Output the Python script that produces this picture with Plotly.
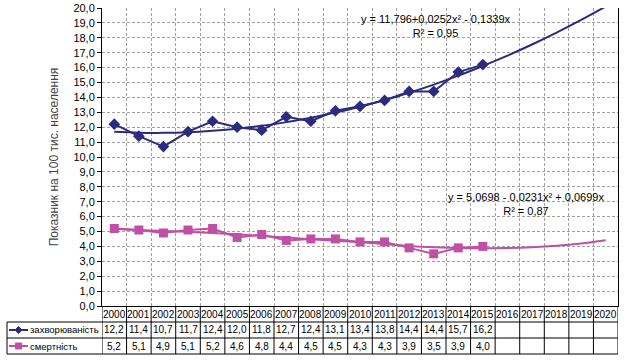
import plotly.graph_objects as go

years = [str(y) for y in range(2000, 2021)]
morbidity = [12.2, 11.4, 10.7, 11.7, 12.4, 12.0, 11.8, 12.7, 12.4, 13.1, 13.4, 13.8, 14.4, 14.4, 15.7, 16.2]
mortality = [5.2, 5.1, 4.9, 5.1, 5.2, 4.6, 4.8, 4.4, 4.5, 4.5, 4.3, 4.3, 3.9, 3.5, 3.9, 4.0]
# trendlines as drawn in the picture (2000..2020)
morbidity_trend = [11.69, 11.63, 11.62, 11.66, 11.76, 11.90, 12.09, 12.34, 12.63, 12.98, 13.37,
                   13.82, 14.31, 14.86, 15.46, 16.11, 16.80, 17.55, 18.35, 19.20, 20.10]
mortality_trend = [5.16, 5.10, 5.04, 4.98, 4.90, 4.81, 4.70, 4.59, 4.48, 4.38, 4.28,
                   4.15, 4.03, 3.95, 3.90, 3.88, 3.89, 3.94, 4.04, 4.20, 4.42]
series_names = ["захворюваність", "смертність"]
eq1 = ["y = 11,796+0,0252x² - 0,1339x", "R² = 0,95"]
eq2 = ["y = 5,0698 - 0,0231x² + 0,0699x", "R² = 0,87"]

BLUE = "#2B2B80"
PINK = "#C050A4"

n = len(years)
xi = list(range(n))

fig = go.Figure()
fig.add_trace(go.Scatter(x=xi, y=morbidity_trend, mode="lines", line=dict(color=BLUE, width=2, shape="spline"),
                         showlegend=False, hoverinfo="skip"))
fig.add_trace(go.Scatter(x=xi, y=mortality_trend, mode="lines", line=dict(color=PINK, width=2, shape="spline"),
                         showlegend=False, hoverinfo="skip"))
fig.add_trace(go.Scatter(x=xi[:len(morbidity)], y=morbidity, mode="lines+markers", name=series_names[0],
                         line=dict(color=BLUE, width=2), marker=dict(symbol="diamond", size=9, color=BLUE),
                         showlegend=False))
fig.add_trace(go.Scatter(x=xi[:len(mortality)], y=mortality, mode="lines+markers", name=series_names[1],
                         line=dict(color=PINK, width=2), marker=dict(symbol="square", size=9, color=PINK),
                         showlegend=False))

L, R, T, B = 102, 618, 8, 306
W, H = 634, 364
pw, ph = R - L, B - T

def py(p):
    return (B - p) / ph

def px(p):
    return (p - L) / pw

TFONT = dict(family="Liberation Sans, Arial", size=10, color="#000")
LFONT = dict(family="Liberation Sans, Arial", size=9.5, color="#000")
ann = []
shapes = []
row_y = [314, 330, 346]
for i, yr in enumerate(years):
    ann.append(dict(x=i, y=py(row_y[0]), xref="x", yref="paper", text=yr, showarrow=False, font=TFONT,
                    xanchor="center", yanchor="middle"))
for i, v in enumerate(morbidity):
    ann.append(dict(x=i, y=py(row_y[1]), xref="x", yref="paper", text=f"{v:.1f}".replace(".", ","),
                    showarrow=False, font=TFONT, xanchor="center", yanchor="middle"))
for i, v in enumerate(mortality):
    ann.append(dict(x=i, y=py(row_y[2]), xref="x", yref="paper", text=f"{v:.1f}".replace(".", ","),
                    showarrow=False, font=TFONT, xanchor="center", yanchor="middle"))
for k, name in enumerate(series_names):
    ann.append(dict(x=px(29), y=py(row_y[k + 1]), xref="paper", yref="paper", text=name, showarrow=False,
                    xanchor="left", yanchor="middle", font=LFONT, borderpad=0))

LC = "#000"
# table lines
for i in range(n + 1):
    shapes.append(dict(type="line", xref="x", yref="paper", x0=i - 0.5, x1=i - 0.5, y0=py(306), y1=py(354),
                       line=dict(color=LC, width=1)))
for yy in [322, 338, 354]:
    shapes.append(dict(type="line", xref="paper", yref="paper", x0=px(7), x1=1, y0=py(yy), y1=py(yy),
                       line=dict(color=LC, width=1)))
shapes.append(dict(type="line", xref="paper", yref="paper", x0=px(7), x1=px(7), y0=py(322), y1=py(354),
                   line=dict(color=LC, width=1)))
# legend keys
for k, col in enumerate([BLUE, PINK]):
    yk = py(row_y[k + 1])
    shapes.append(dict(type="line", xref="paper", yref="paper", x0=px(9), x1=px(28), y0=yk, y1=yk,
                       line=dict(color=col, width=2)))
# legend key markers (diamond, square)
cx, cy1, cy2 = 18.5, row_y[1], row_y[2]
shapes.append(dict(type="path", xref="paper", yref="paper",
                   path=f"M {px(cx)} {py(cy1 - 3.5)} L {px(cx + 3.5)} {py(cy1)} L {px(cx)} {py(cy1 + 3.5)} "
                        f"L {px(cx - 3.5)} {py(cy1)} Z",
                   fillcolor=BLUE, line=dict(color=BLUE, width=1)))
shapes.append(dict(type="rect", xref="paper", yref="paper", x0=px(cx - 3), x1=px(cx + 3),
                   y0=py(cy2 - 3), y1=py(cy2 + 3), fillcolor=PINK, line=dict(color=PINK, width=1)))

EFONT = dict(family="Liberation Sans, Arial", size=11, color="#000")
ann.append(dict(x=px(436), y=py(26), xref="paper", yref="paper", text="<br>".join(eq1), showarrow=False,
                font=EFONT, align="center", xanchor="center", yanchor="middle"))
ann.append(dict(x=px(526), y=py(203.5), xref="paper", yref="paper", text="<br>".join(eq2), showarrow=False,
                font=EFONT, align="center", xanchor="center", yanchor="middle"))

fig.update_layout(
    width=W, height=H,
    margin=dict(l=L, r=W - R, t=T, b=H - B, autoexpand=False),
    paper_bgcolor="white", plot_bgcolor="white",
    separators=", ",
    showlegend=False,
    annotations=ann, shapes=shapes,
    xaxis=dict(range=[-0.5, n - 0.5], tickvals=[i + 0.5 for i in range(n - 1)], showticklabels=False,
               showgrid=True, gridcolor="#A0A0A0", griddash="3px,2px", gridwidth=1,
               showline=True, linecolor="#000", linewidth=1, zeroline=False, ticks=""),
    yaxis=dict(range=[0, 20], dtick=1, tickformat=".1f", showgrid=True, gridcolor="#A0A0A0",
               griddash="3px,2px", gridwidth=1, showline=True, linecolor="#000", linewidth=1, mirror=True,
               ticks="outside", ticklen=4, tickcolor="#000", zeroline=False,
               tickfont=dict(family="Liberation Sans, Arial", size=11, color="#000"),
               title=dict(text="Показник на 100 тис. населення", standoff=12,
                          font=dict(family="Liberation Sans, Arial", size=12, color="#444"))),
    font=dict(family="Liberation Sans, Arial"),
)
fig.write_html("out.html", config={"displayModeBar": False},
               post_script="document.body.style.margin='0px';")
